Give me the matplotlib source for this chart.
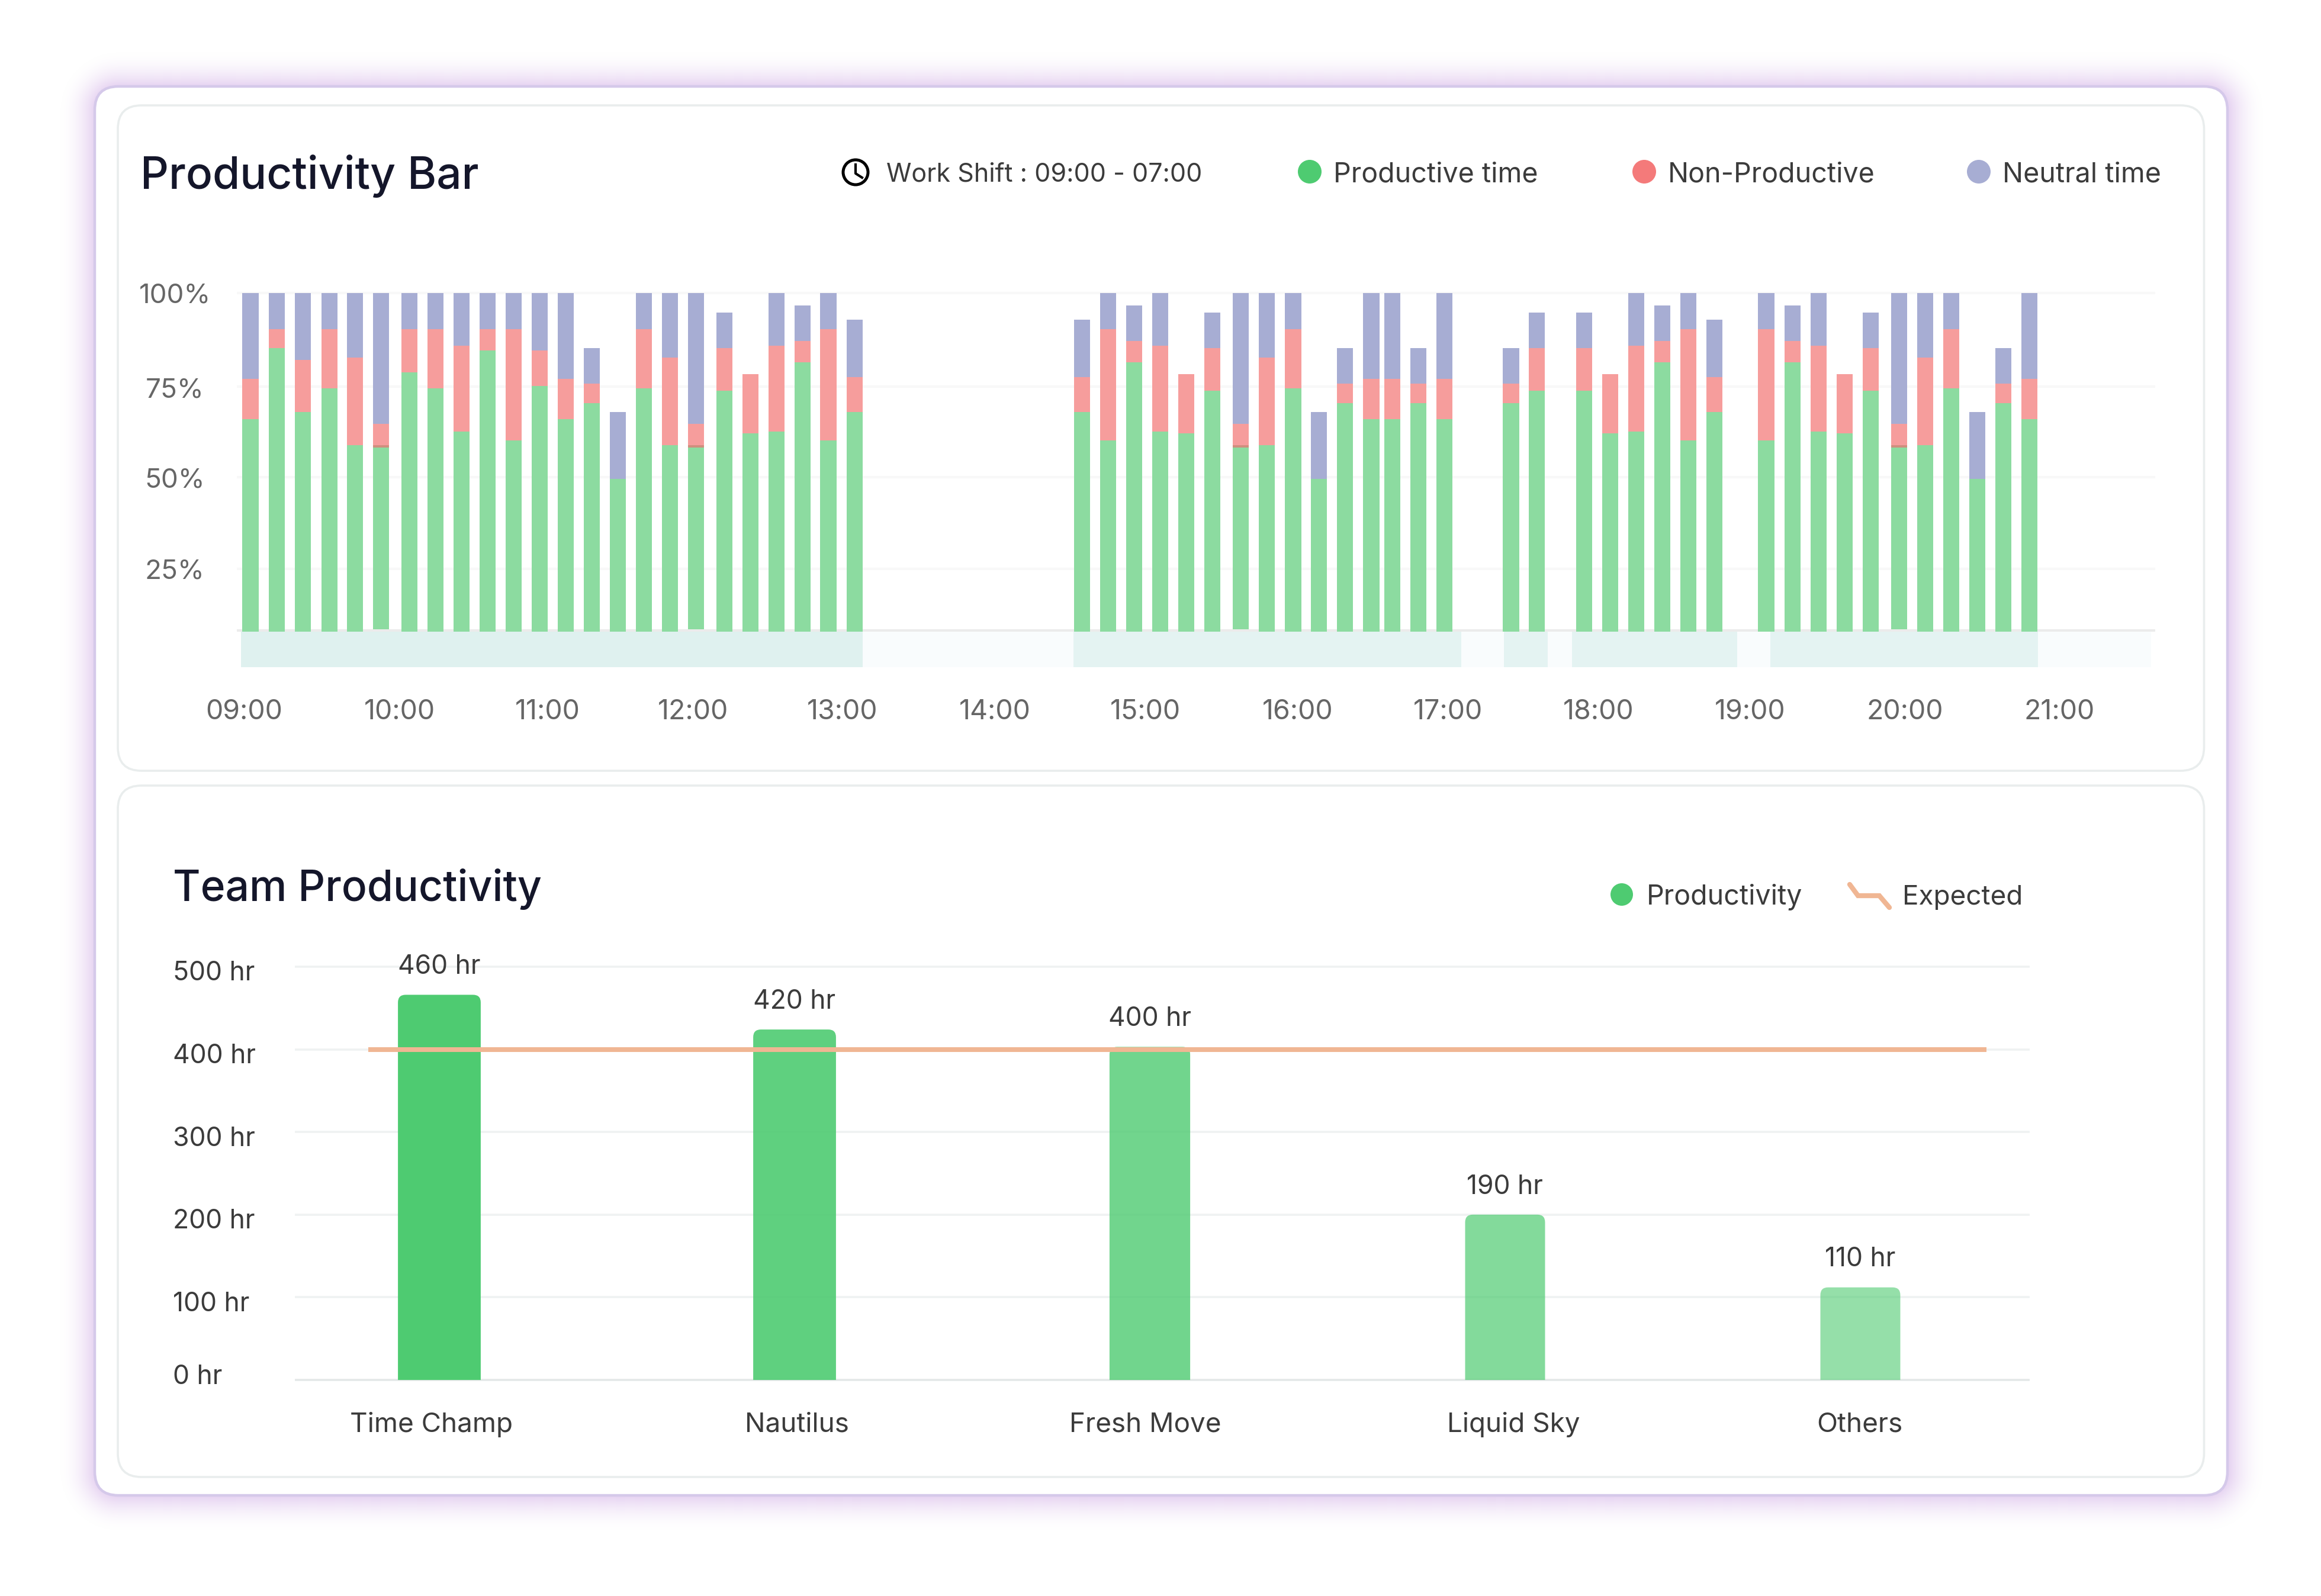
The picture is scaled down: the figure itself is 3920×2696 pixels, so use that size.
import numpy as np
import matplotlib
matplotlib.use('Agg')
import matplotlib.pyplot as plt
from matplotlib.patches import Circle, FancyBboxPatch, PathPatch, Rectangle
from matplotlib.path import Path

W, H = 3920, 2696
FONT = 'Inter'
TEXT = '#3b3b3b'
TICK = '#666666'

# Productivity Bar data (minutes after 09:00, stacked percentages)
bar_minutes = [2.6, 13.0, 23.3, 33.9, 44.1, 54.4, 65.7, 76.0, 86.3, 96.6, 106.9, 117.3,
               127.7, 138.0, 148.3, 158.6, 168.9, 179.3, 190.6, 200.9, 211.2, 221.5, 231.8, 242.2,
               332.4, 342.7, 353.1, 363.4, 373.7, 384.1, 395.4, 405.7, 416.1, 426.4, 436.7, 447.1,
               455.4, 465.8, 476.1, 502.5, 512.8,
               531.5, 541.9, 552.2, 562.5, 572.9, 583.2,
               603.7, 614.2, 624.5, 634.9, 645.2, 656.5, 666.8, 677.1, 687.5, 697.8, 708.1]
productive = [65.7, 85.1, 67.6, 74.1, 58.6, 58.0, 78.5, 74.1, 62.4, 84.4, 59.9, 74.7,
              65.7, 70.0, 49.5, 74.1, 58.6, 58.0, 73.4, 61.9, 62.4, 81.1, 59.9, 67.6,
              67.6, 59.9, 81.1, 62.4, 61.9, 73.4, 58.0, 58.6, 74.1, 49.5, 70.0, 65.7,
              65.7, 70.0, 65.7, 70.0, 73.4,
              73.4, 61.9, 62.4, 81.1, 59.9, 67.6,
              59.9, 81.1, 62.4, 61.9, 73.4, 58.0, 58.6, 74.1, 49.5, 70.0, 65.7]
non_productive = [11.0, 5.1, 14.2, 16.1, 23.8, 5.8, 11.7, 16.1, 23.3, 5.8, 30.3, 9.7,
                  11.0, 5.3, 0.0, 16.1, 23.8, 5.8, 11.7, 16.1, 23.3, 5.8, 30.3, 9.6,
                  9.6, 30.3, 5.8, 23.3, 16.1, 11.7, 5.8, 23.8, 16.1, 0.0, 5.3, 11.0,
                  11.0, 5.3, 11.0, 5.3, 11.7,
                  11.7, 16.1, 23.3, 5.8, 30.3, 9.6,
                  30.3, 5.8, 23.3, 16.1, 11.7, 5.8, 23.8, 16.1, 0.0, 5.3, 11.0]
neutral = [23.3, 9.8, 18.2, 9.8, 17.6, 35.6, 9.8, 9.8, 14.3, 9.8, 9.8, 15.6,
           23.3, 9.7, 18.1, 9.8, 17.6, 35.6, 9.6, 0.0, 14.3, 9.8, 9.8, 15.5,
           15.5, 9.8, 9.8, 14.3, 0.0, 9.6, 35.6, 17.6, 9.8, 18.1, 9.7, 23.3,
           23.3, 9.7, 23.3, 9.7, 9.6,
           9.6, 0.0, 14.3, 9.8, 9.8, 15.5,
           9.8, 9.8, 14.3, 0.0, 9.6, 35.6, 17.6, 9.8, 18.1, 9.7, 23.3]
lifted_bars = [5, 17, 30, 52]
active_spans = [(-1.2, 245.4), (329.0, 482.8), (499.7, 517.1), (526.7, 592.2), (605.4, 711.5)]
shift_end = 756.4
pct_grid = [25, 50, 74.6, 100]
pct_ticks = [25, 49.8, 74.2, 100]
pct_labels = ['25%', '50%', '75%', '100%']
hour_ticks = [0, 61.8, 120.5, 178, 237.4, 297.8, 357.6, 418, 477.4, 537.3, 597.2, 658.7, 720]
hour_labels = ['09:00', '10:00', '11:00', '12:00', '13:00', '14:00', '15:00',
               '16:00', '17:00', '18:00', '19:00', '20:00', '21:00']

# Team Productivity data
teams = ['Time Champ', 'Nautilus', 'Fresh Move', 'Liquid Sky', 'Others']
team_hours = [466, 424, 403, 200, 112]
team_labels = ['460 hr', '420 hr', '400 hr', '190 hr', '110 hr']
team_alpha = [1.0, 0.9, 0.8, 0.7, 0.6]
team_ticks = [-0.022, 1.007, 1.987, 3.023, 3.998]
hr_grid = [0, 100, 200, 300, 400, 500]
hr_ticks = [6.5, 95, 195, 295, 395, 495]
hr_labels = ['0 hr', '100 hr', '200 hr', '300 hr', '400 hr', '500 hr']
expected = 400


def px_axes(left, top, right, bottom):
    ax = fig.add_axes([left / W, 1 - bottom / H, (right - left) / W, (bottom - top) / H])
    ax.patch.set_alpha(0)
    for s in ax.spines.values():
        s.set_visible(False)
    ax.tick_params(length=0)
    return ax


def round_top_bar(ax, x, width, height, rx, ry, **kw):
    l, r = x - width / 2, x + width / 2
    verts = [(l, 0), (l, height - ry), (l, height), (l + rx, height), (r - rx, height),
             (r, height), (r, height - ry), (r, 0), (l, 0)]
    codes = [Path.MOVETO, Path.LINETO, Path.CURVE3, Path.CURVE3, Path.LINETO,
             Path.CURVE3, Path.CURVE3, Path.LINETO, Path.CLOSEPOLY]
    ax.add_patch(PathPatch(Path(verts, codes), lw=0, **kw))


fig = plt.figure(figsize=(W / 100, H / 100), dpi=100, facecolor='white')
plt.rcParams['font.family'] = [FONT, 'DejaVu Sans']

# background layer in pixel coordinates
bg = fig.add_axes([0, 0, 1, 1])
bg.set_xlim(0, W)
bg.set_ylim(H, 0)
bg.axis('off')

# soft purple glow round the outer card
x0, y0, x1, y1 = 160, 146, 3762, 2526
yy, xx = np.mgrid[0:H, 0:W]
rad = 40
dx = np.maximum(np.abs(xx - (x0 + x1) / 2) - ((x1 - x0) / 2 - rad), 0)
dy = np.maximum(np.abs(yy - (y0 + y1) / 2) - ((y1 - y0) / 2 - rad), 0)
dist = np.hypot(dx, dy) - rad
glow = np.ones((H, W, 4))
glow[..., :3] = matplotlib.colors.to_rgb('#e6d2f1')
glow[..., 3] = np.clip(1 - dist / 62, 0, 1) ** 2
bg.imshow(glow, extent=(0, W, H, 0), aspect='auto', zorder=0)
bg.set_xlim(0, W)
bg.set_ylim(H, 0)

bg.add_patch(FancyBboxPatch((x0, y0), x1 - x0, y1 - y0, boxstyle='round,pad=0,rounding_size=40',
                            fc='white', ec='#d5c9ea', lw=3.2, zorder=1))
for top, bottom in [(178, 1302), (1327, 2495)]:
    bg.add_patch(FancyBboxPatch((199, top), 3523.5, bottom - top, boxstyle='round,pad=0,rounding_size=40',
                                fc='white', ec='#e9eded', lw=2.6, zorder=2))

# headers
bg.text(237, 297, 'Productivity Bar', fontsize=53.9, fontweight=500, color='#14162a', va='center', zorder=3)
bg.text(292, 1502, 'Team Productivity', fontsize=51.4, fontweight=500, color='#14162a', va='center', zorder=3)

# clock icon
bg.add_patch(Circle((1445, 291), 21, fc='none', ec='black', lw=3.6, zorder=3))
bg.plot([1445, 1445, 1456], [278, 293, 300], color='black', lw=3, zorder=3)
bg.text(1497, 295, 'Work Shift : 09:00 - 07:00', fontsize=31, color=TEXT, va='center', zorder=3)

for cx, tx, color, label in [(2212, 2252, '#4ecb71', 'Productive time'),
                             (2777, 2817, '#f47a7a', 'Non-Productive'),
                             (3342, 3382, '#a7add3', 'Neutral time')]:
    bg.add_patch(Circle((cx, 290), 20, fc=color, ec='none', zorder=3))
    bg.text(tx, 295, label, fontsize=33.5, color=TEXT, va='center', zorder=3)

# legend of the lower card
bg.add_patch(Circle((2739, 1511), 19, fc='#4ecb71', ec='none', zorder=3))
bg.text(2781, 1516, 'Productivity', fontsize=33.5, color=TEXT, va='center', zorder=3)
bg.plot([3124, 3138, 3174, 3191], [1494, 1513, 1513, 1533], color='#f0b693', lw=6,
        solid_capstyle='round', solid_joinstyle='miter', zorder=3)
bg.text(3213, 1516, 'Expected', fontsize=33, color=TEXT, va='center', zorder=3)

# Productivity Bar chart
ax1 = px_axes(400, 488, 3640, 1130)
ax1.set_xlim(-2.8, 758)
ax1.set_ylim(-2.2, 101.13)
BASE = 8.0
for v in pct_grid:
    ax1.axhline(v, color='#f8f8f8', lw=2.9, zorder=1)
ax1.axhline(BASE + 0.25, color='#ebebeb', lw=2.9, zorder=1)
ax1.add_patch(Rectangle((active_spans[0][0], -1.7), shift_end - active_spans[0][0], BASE + 1.7,
                        fc='#f9fcfd', lw=0, zorder=1))
for i, (a, b) in enumerate(active_spans):
    ax1.add_patch(Rectangle((a, -1.7), b - a, BASE + 1.7, fc='#dff1ef' if i == 0 else '#e4f3f2', lw=0, zorder=2))

mins = np.array(bar_minutes)
prod = np.array(productive)
nonp = np.array(non_productive)
neut = np.array(neutral)
lift = np.zeros(len(mins))
lift[lifted_bars] = 0.6
bw = 6.4
ax1.bar(mins, prod - BASE - lift, bw, bottom=BASE + lift, color='#8cdba0', zorder=3)
ax1.bar(mins, lift, bw, bottom=prod, color='#cf8f7e', zorder=3)
ax1.bar(mins, nonp, bw, bottom=prod + lift, color='#f69d9c', zorder=3)
ax1.bar(mins, neut, bw, bottom=prod + lift + nonp, color='#a7add3', zorder=3)

ax1.set_xticks(hour_ticks, hour_labels)
ax1.set_yticks(pct_ticks, pct_labels)
ax1.tick_params(axis='x', labelsize=33.5, labelcolor=TICK, pad=37)
ax1.tick_params(axis='y', labelsize=33, labelcolor=TICK, pad=75.6)
for t in ax1.get_yticklabels():
    t.set_ha('center')

# Team Productivity chart
ax2 = px_axes(498, 1600, 3428, 2345)
ax2.set_xlim(-0.4067, 4.4767)
ax2.set_ylim(-10, 523.6)
for v in hr_grid:
    ax2.axhline(v, color='#e4e8e8' if v == 0 else '#eff2f2', lw=2.6, zorder=1)
bar_w = [0.233, 0.233, 0.227, 0.225, 0.225]
for i, (h, lab, a) in enumerate(zip(team_hours, team_labels, team_alpha)):
    round_top_bar(ax2, i, bar_w[i], h, 13 / 600, 13 / 1.396, fc='#4ecb71', alpha=a, zorder=2)
    ax2.annotate(lab, (i, h), xytext=(0, 34), textcoords='offset points', ha='center', va='center',
                 fontsize=32, color=TEXT, zorder=5)
ax2.plot([-0.2, 4.355], [expected, expected], color='#f0b693', lw=5.8, solid_capstyle='butt', zorder=4)
ax2.set_xticks(team_ticks, teams)
ax2.set_yticks(hr_ticks, hr_labels)
ax2.tick_params(axis='x', labelsize=33, labelcolor=TEXT, pad=29)
ax2.tick_params(axis='y', labelsize=32, labelcolor=TEXT, pad=148)
for t in ax2.get_yticklabels():
    t.set_ha('left')

fig.savefig('out.png', dpi=100)
